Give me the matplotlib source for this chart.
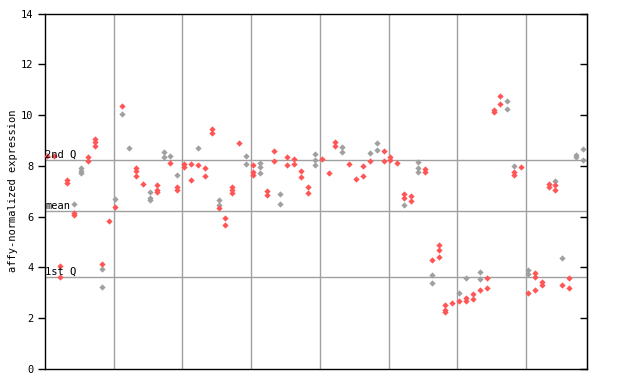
import matplotlib
matplotlib.use('Agg')
import matplotlib.pyplot as plt

# expression values per sample column (left to right), split by colour
red_expr = [
    [8.39], [8.39], [4.07, 3.61], [7.44, 7.31], [6.15, 6.05],
    [], [8.33, 8.2], [9.07, 8.95, 8.78], [4.13], [5.81],
    [6.39], [10.37], [], [7.93, 7.8, 7.59], [7.28],
    [], [7.24, 7.05, 6.97], [], [8.12], [7.18, 7.05],
    [8.07, 7.94], [8.07, 7.44], [8.03], [7.9, 7.6], [9.47, 9.3],
    [6.35], [5.93, 5.67], [7.18, 7.05, 6.92], [8.91], [],
    [8.03, 7.77, 7.64], [], [7.02, 6.85], [8.6, 8.2], [],
    [8.36, 8.03], [8.27, 8.07], [7.81, 7.57], [7.18, 6.95], [],
    [8.27], [7.73], [8.92, 8.8], [], [8.07],
    [7.5], [7.99, 7.62], [8.2], [], [8.58, 8.21],
    [8.36, 8.24], [8.12], [6.91, 6.72], [6.81, 6.6], [],
    [7.87, 7.74], [4.29], [4.88, 4.7, 4.4], [2.52, 2.32, 2.25], [2.61],
    [2.69], [2.78, 2.69], [2.95, 2.76], [3.11], [3.57, 3.18],
    [10.2, 10.12], [10.75, 10.43], [], [7.77, 7.64], [7.94],
    [2.98], [3.77, 3.61, 3.1], [3.44, 3.31], [7.28, 7.18], [7.24, 7.05],
    [3.31], [3.57, 3.18], [], [],
]
gray_expr = [
    [], [], [], [], [6.48],
    [7.93, 7.81, 7.7], [], [], [3.92, 3.22], [],
    [6.69], [10.03], [8.69], [], [],
    [6.97, 6.72, 6.65], [], [8.56, 8.36], [8.37], [7.64],
    [], [], [8.69], [], [],
    [6.65, 6.45], [], [], [], [8.39, 8.07],
    [], [8.1, 7.97, 7.7], [], [], [6.88, 6.48],
    [], [], [], [], [8.46, 8.25, 8.03],
    [], [], [], [8.75, 8.53], [],
    [], [], [8.49], [8.91, 8.62], [],
    [], [], [6.44], [], [8.15, 7.9, 7.75],
    [], [3.69, 3.37], [], [], [],
    [2.98], [3.57], [], [3.83, 3.53], [],
    [], [], [10.54, 10.22], [7.99], [],
    [3.9, 3.74], [], [], [], [7.41],
    [4.36], [], [8.43, 8.36], [8.65, 8.25],
]
ref_names = ['2nd Q', 'mean', '1st Q']
ref_values = [8.22, 6.21, 3.61]


def flatten(cols):
    xs, ys = [], []
    for i, vals in enumerate(cols):
        for v in vals:
            xs.append(i)
            ys.append(v)
    return xs, ys


plt.rcParams['font.family'] = 'DejaVu Sans Mono'
fig = plt.figure(figsize=(6.4, 3.84), dpi=100)
ax = fig.add_axes([45 / 640, 15 / 384, 542 / 640, 355.5 / 384])

ncol = len(red_expr)
ax.set_xlim(-0.25, ncol - 0.4)
ax.set_ylim(0, 14)

# vertical separators every 10 samples
for gx in range(10, ncol, 10):
    ax.axvline(gx - 0.25, color='#a0a0a0', lw=1, zorder=1)

for name, val in zip(ref_names, ref_values):
    ax.axhline(val, color='#a0a0a0', lw=1, zorder=1)
    ax.text(-0.2, val + 0.03, name, fontsize=7.5, va='bottom', ha='left', zorder=4)

gx_, gy_ = flatten(gray_expr)
rx_, ry_ = flatten(red_expr)
ax.plot(gx_, gy_, 'D', ms=3.2, color='#a0a0a0', mec='none', zorder=3)
ax.plot(rx_, ry_, 'D', ms=3.2, color='#ff5555', mec='none', zorder=3)

ax.set_yticks(range(0, 15, 2))
ax.set_xticks([])
ax.tick_params(axis='y', labelsize=7.5, length=5, width=1, direction='out')
ax.set_ylabel('affy-normalized expression', fontsize=7.5, labelpad=2)

# right side ticks point inward, no labels
sec = ax.secondary_yaxis('right')
sec.set_yticks(range(0, 15, 2))
sec.tick_params(direction='in', length=5, width=1, labelright=False)

for s in ax.spines.values():
    s.set_linewidth(1)

plt.savefig('out.png', dpi=100)
